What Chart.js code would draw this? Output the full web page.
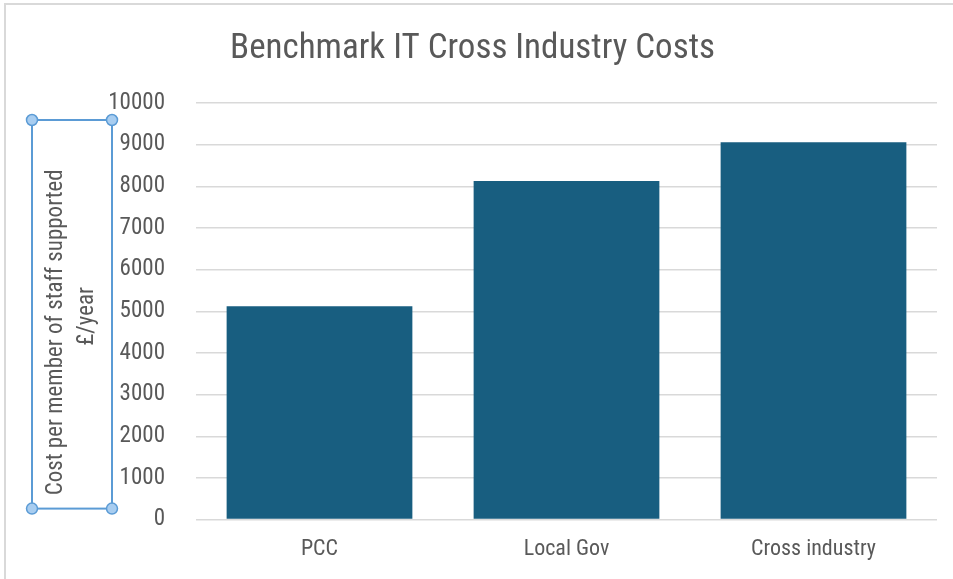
<!DOCTYPE html>
<html>
<head>
<meta charset="utf-8">
<script src="https://cdn.jsdelivr.net/npm/chart.js@4.4.1/dist/chart.umd.min.js"></script>
<style>
  html, body { margin: 0; padding: 0; background: #fff; }
  #wrap { width: 953px; height: 579px; position: relative; }
</style>
</head>
<body>
<div id="wrap"><canvas id="myChart" width="953" height="579"></canvas></div>
<script>
const categories = ['PCC', 'Local Gov', 'Cross industry'];
const costValues = [5120, 8130, 9060];
const yTicks = [0, 1000, 2000, 3000, 4000, 5000, 6000, 7000, 8000, 9000, 10000];
const yTitleLines = ['Cost per member of staff supported', '£/year'];

const FONT = "'Liberation Sans Narrow', 'Arial Narrow', 'Roboto Condensed', 'Liberation Sans', sans-serif";
const TEXT_GREY = '#595959';
const GRID_GREY = '#d9d9d9';

// outer chart border, the y axis title (moved down a bit like the original) and its selection box
const decorPlugin = {
    id: 'decor',
    beforeDraw(chart) {
        const ctx = chart.ctx;
        ctx.save();
        ctx.fillStyle = '#fff';
        ctx.fillRect(0, 0, chart.width, chart.height);
        ctx.strokeStyle = GRID_GREY;
        ctx.lineWidth = 2;
        ctx.strokeRect(5, 4, chart.width + 10, chart.height + 10);
        ctx.restore();
    },
    afterDraw(chart) {
        const ctx = chart.ctx;
        const area = chart.chartArea;
        const x1 = 32, x2 = 112;
        const y1 = area.top + 17, y2 = area.bottom - 11;
        const midY = (y1 + y2) / 2;

        ctx.save();
        ctx.fillStyle = TEXT_GREY;
        ctx.font = '23px ' + FONT;
        ctx.textAlign = 'center';
        ctx.textBaseline = 'middle';
        ctx.translate(56, midY + 18);
        ctx.rotate(-Math.PI / 2);
        ctx.fillText(yTitleLines[0], 0, 0);
        ctx.restore();

        ctx.save();
        ctx.fillStyle = TEXT_GREY;
        ctx.font = '23px ' + FONT;
        ctx.textAlign = 'center';
        ctx.textBaseline = 'middle';
        ctx.translate(87, midY + 2);
        ctx.rotate(-Math.PI / 2);
        ctx.fillText(yTitleLines[1], 0, 0);
        ctx.restore();

        ctx.save();
        ctx.strokeStyle = '#5b9bd5';
        ctx.lineWidth = 2;
        ctx.strokeRect(x1, y1, x2 - x1, y2 - y1);
        [[x1, y1], [x2, y1], [x1, y2], [x2, y2]].forEach(p => {
            ctx.beginPath();
            ctx.arc(p[0], p[1], 5.5, 0, Math.PI * 2);
            ctx.fillStyle = '#a8cdf0';
            ctx.fill();
            ctx.lineWidth = 1.5;
            ctx.strokeStyle = '#5b9bd5';
            ctx.stroke();
        });
        ctx.restore();
    }
};

function initChart() {
    const ctx = document.getElementById('myChart').getContext('2d');
    new Chart(ctx, {
        type: 'bar',
        data: {
            labels: categories,
            datasets: [{
                label: 'Cost',
                data: costValues,
                backgroundColor: '#185e80',
                borderWidth: 0,
                categoryPercentage: 1.0,
                barPercentage: 0.752
            }]
        },
        options: {
            responsive: false,
            animation: false,
            layout: {
                padding: { top: 8, right: 16, bottom: 0, left: 8 }
            },
            plugins: {
                legend: { display: false },
                tooltip: { enabled: false },
                title: {
                    display: true,
                    text: 'Benchmark IT Cross Industry Costs',
                    color: TEXT_GREY,
                    font: { family: FONT, size: 35, weight: 'normal' },
                    padding: { top: 20, bottom: 33 }
                }
            },
            scales: {
                x: {
                    grid: { display: false, drawTicks: false },
                    border: { display: false },
                    ticks: {
                        color: TEXT_GREY,
                        font: { family: FONT, size: 22 },
                        padding: 16.5
                    }
                },
                y: {
                    min: 0,
                    max: 10000,
                    afterBuildTicks: scale => {
                        scale.ticks = yTicks.map(v => ({ value: v }));
                    },
                    afterFit: scale => {
                        scale.width = 188;
                    },
                    grid: { color: GRID_GREY, lineWidth: 1.5, drawTicks: false },
                    border: { display: false },
                    ticks: {
                        color: TEXT_GREY,
                        font: { family: FONT, size: 23 },
                        padding: 31,
                        callback: value => String(value)
                    },
                    title: { display: false }
                }
            }
        },
        plugins: [decorPlugin]
    });
}

document.addEventListener('DOMContentLoaded', initChart);
</script>
</body>
</html>
